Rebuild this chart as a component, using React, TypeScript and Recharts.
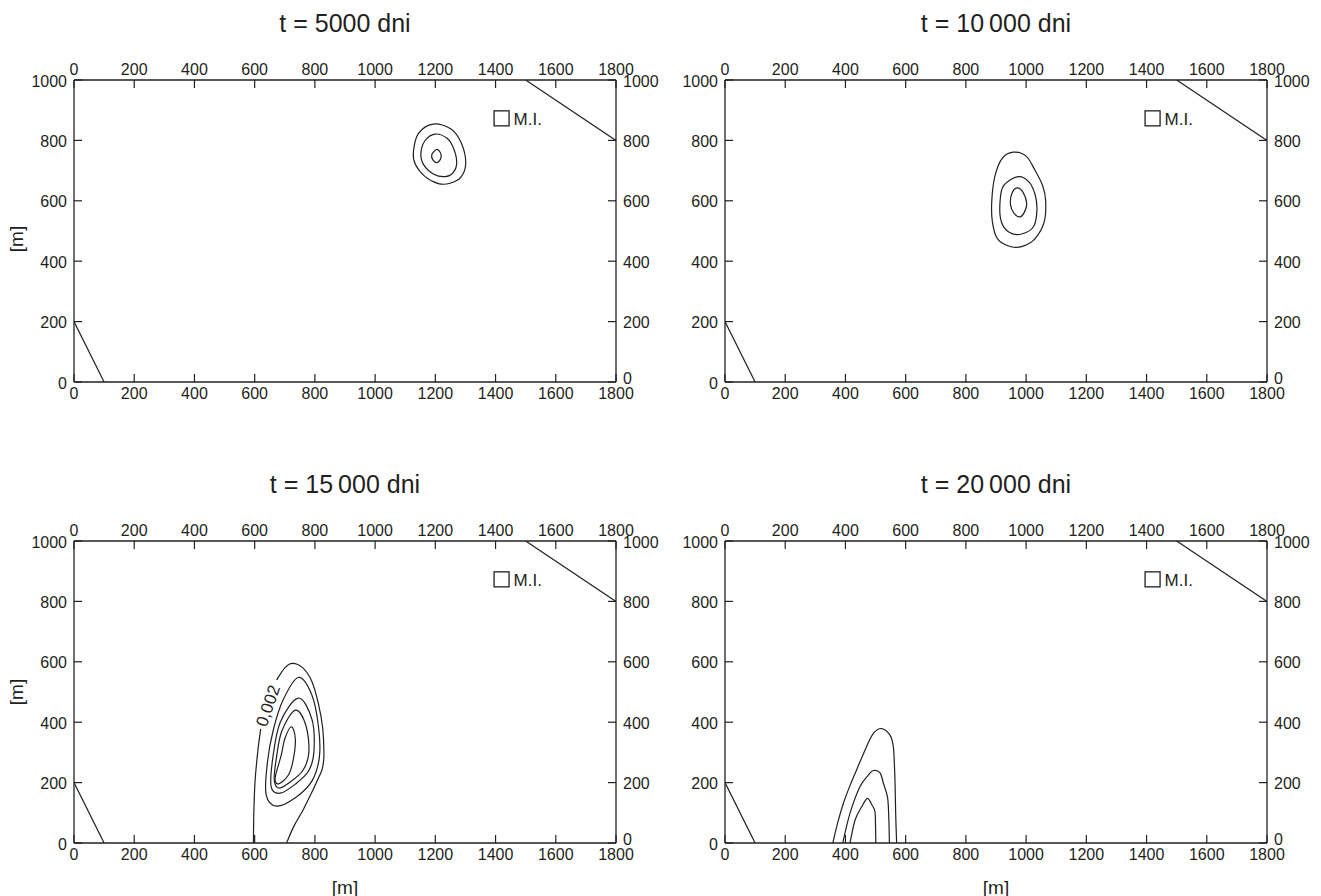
import React from "react"
import { ComposedChart, Line, Scatter, XAxis, YAxis } from "recharts"

const INK = "#231f20"
const FONT = "'Liberation Sans', Arial, sans-serif"

// axis ticks, metres
const xTicks = [0, 200, 400, 600, 800, 1000, 1200, 1400, 1600, 1800]
const yTicks = [0, 200, 400, 600, 800, 1000]

const titles = ["t = 5000 dni", "t = 10\u2009000 dni", "t = 15\u2009000 dni", "t = 20\u2009000 dni"]

// model boundary cut-offs (same on every panel)
const edgeTopRight = [[1500, 1000], [1800, 800]]
const edgeBottomLeft = [[0, 200], [100, 0]]
const wellMI = [[1420, 873]]

// t = 5000
const p1Outer = [[1193, 854], [1252, 838], [1287, 790], [1301, 724], [1285, 678], [1249, 658], [1210, 657], [1166, 680], [1134, 720], [1127, 760], [1144, 823]]
const p1Mid = [[1199, 821], [1240, 806], [1262, 770], [1271, 724], [1258, 692], [1232, 680], [1195, 688], [1162, 718], [1152, 755], [1165, 798]]
const p1Inner = [[1204, 770], [1216, 761], [1219, 744], [1207, 727], [1193, 734], [1188, 752]]

// t = 10 000
const p2Outer = [[957, 761], [1000, 748], [1029, 702], [1055, 650], [1065, 600], [1060, 530], [1030, 475], [990, 450], [950, 448], [905, 474], [888, 530], [886, 600], [896, 680], [920, 740]]
const p2Mid = [[974, 680], [1010, 662], [1030, 620], [1036, 570], [1025, 515], [985, 490], [945, 495], [918, 530], [913, 590], [925, 650]]
const p2Inner = [[970, 643], [990, 628], [1002, 590], [993, 560], [980, 547], [960, 558], [948, 588], [953, 625]]

// t = 15 000
const p3OuterA = [[596, 0], [597, 90], [601, 200], [610, 300], [620, 378]]
const p3OuterB = [[673, 540], [700, 580], [725, 595], [760, 580], [790, 535], [812, 460], [826, 380], [830, 290], [825, 248], [816, 224], [798, 185], [762, 112], [730, 55], [706, 0]]
const p3C2 = [[745, 548], [790, 490], [812, 385], [815, 285], [790, 205], [735, 150], [672, 122], [638, 160], [642, 265], [662, 375], [695, 475]]
const p3C3 = [[745, 480], [790, 410], [797, 305], [780, 240], [735, 195], [685, 165], [655, 185], [660, 280], [685, 400]]
const p3C4 = [[735, 440], [770, 390], [780, 300], [760, 240], [715, 200], [680, 182], [665, 210], [672, 280], [690, 370]]
const p3C5 = [[722, 385], [735, 345], [728, 275], [712, 225], [680, 196], [668, 215], [688, 290], [700, 345]]

// t = 20 000
const p4C1 = [[358, 0], [375, 70], [393, 131], [415, 190], [437, 242], [470, 319], [493, 363], [520, 379], [548, 357], [559, 319], [563, 250], [565, 186], [567, 90], [570, 0]]
const p4C2 = [[391, 0], [415, 98], [448, 186], [476, 225], [493, 240], [515, 232], [526, 198], [540, 150], [544, 80], [546, 0]]
const p4C3 = [[415, 0], [432, 76], [454, 120], [473, 148], [488, 126], [498, 104], [500, 50], [501, 0]]

const toPts = (arr: number[][]) => arr.map(([x, y]) => ({ x, y }))

const seg = (ctx: any, p0: number[], p1: number[], p2: number[], p3: number[]) => {
  ctx.bezierCurveTo(
    p1[0] + (p2[0] - p0[0]) / 6, p1[1] + (p2[1] - p0[1]) / 6,
    p2[0] - (p3[0] - p1[0]) / 6, p2[1] - (p3[1] - p1[1]) / 6,
    p2[0], p2[1]
  )
}
const smoothOpen = (ctx: any) => {
  let pts: number[][] = []
  return {
    areaStart() {}, areaEnd() {},
    lineStart() { pts = [] },
    point(x: number, y: number) { pts.push([+x, +y]) },
    lineEnd() {
      const n = pts.length
      if (!n) return
      ctx.moveTo(pts[0][0], pts[0][1])
      for (let i = 0; i < n - 1; i++) {
        seg(ctx, pts[Math.max(i - 1, 0)], pts[i], pts[i + 1], pts[Math.min(i + 2, n - 1)])
      }
    },
  }
}
const smoothClosed = (ctx: any) => {
  let pts: number[][] = []
  return {
    areaStart() {}, areaEnd() {},
    lineStart() { pts = [] },
    point(x: number, y: number) { pts.push([+x, +y]) },
    lineEnd() {
      const n = pts.length
      if (!n) return
      ctx.moveTo(pts[0][0], pts[0][1])
      for (let i = 0; i < n; i++) {
        seg(ctx, pts[(i - 1 + n) % n], pts[i], pts[(i + 1) % n], pts[(i + 2) % n])
      }
      ctx.closePath()
    },
  }
}

const panels = [
  { left: 0, top: 45, title: titles[0], closed: [p1Outer, p1Mid, p1Inner], open: [] as number[][][], yLabel: true, yShift: 8, xLabel: false, label: null as any },
  { left: 651, top: 45, title: titles[1], closed: [p2Outer, p2Mid, p2Inner], open: [], yLabel: false, yShift: 0, xLabel: false, label: null },
  { left: 0, top: 506, title: titles[2], closed: [p3C2, p3C3, p3C4, p3C5], open: [p3OuterA, p3OuterB], yLabel: true, yShift: 0, xLabel: true, label: { x: 645, y: 454, text: "0,002" } },
  { left: 651, top: 506, title: titles[3], closed: [], open: [p4C1, p4C2, p4C3], yLabel: false, yShift: 0, xLabel: true, label: null },
]

const TICK = 8
const tickText = { fontSize: 16, fill: INK, fontFamily: FONT }

const TickBottom = ({ x, y, payload }: any) => (
  <g>
    <line x1={x} y1={y} x2={x} y2={y - TICK} stroke={INK} strokeWidth={1.2} />
    <text x={x} y={y + 17} textAnchor="middle" {...tickText}>{payload.value}</text>
  </g>
)
const TickTop = ({ x, y, payload }: any) => (
  <g>
    <line x1={x} y1={y} x2={x} y2={y + TICK} stroke={INK} strokeWidth={1.2} />
    <text x={x} y={y - 5} textAnchor="middle" {...tickText}>{payload.value}</text>
  </g>
)
const TickLeft = ({ x, y, payload }: any) => (
  <g>
    <line x1={x} y1={y} x2={x + TICK} y2={y} stroke={INK} strokeWidth={1.2} />
    <text x={x - 7} y={y + 6.5} textAnchor="end" {...tickText}>{payload.value}</text>
  </g>
)
const TickRight = ({ x, y, payload }: any) => (
  <g>
    <line x1={x} y1={y} x2={x - TICK} y2={y} stroke={INK} strokeWidth={1.2} />
    <text x={x + 7} y={payload.value === 0 ? y + 2 : y + 6.5} textAnchor="start" {...tickText}>{payload.value}</text>
  </g>
)

const MiShape = ({ cx, cy }: any) => (
  <g>
    <rect x={cx - 7.5} y={cy - 7.5} width={15} height={15} fill="none" stroke={INK} strokeWidth={1.3} />
    <text x={cx + 12} y={cy + 6.5} fontSize={17} fill={INK} fontFamily={FONT}>M.I.</text>
  </g>
)

const axisLine = { stroke: INK, strokeWidth: 1.3 }

function Panel({ p }: { p: (typeof panels)[number] }) {
  const W = 660
  const H = 380
  const plotLeft = 74
  const plotRight = W - 44
  const plotTop = 35
  const plotBottom = H - 43
  const midX = (plotLeft + plotRight) / 2
  const LabelShape = ({ cx, cy }: any) => (
    <text x={cx} y={cy} transform={`rotate(-71 ${cx} ${cy})`} textAnchor="middle" dominantBaseline="central" fontSize={17} fill={INK} fontFamily={FONT}>
      {p.label.text}
    </text>
  )
  return (
    <div style={{ position: "absolute", left: p.left, top: p.top, width: W, height: H }}>
      <div style={{ position: "absolute", left: plotLeft, width: plotRight - plotLeft, top: -35, fontSize: 25, lineHeight: "26px", textAlign: "center", color: INK }}>
        {p.title}
      </div>
      {p.yLabel && (
        <div style={{ position: "absolute", left: 17 - 25, top: (plotTop + plotBottom) / 2 - 12 + p.yShift, width: 50, height: 24, lineHeight: "24px", fontSize: 19, textAlign: "center", transform: "rotate(-90deg)", color: INK }}>
          [m]
        </div>
      )}
      {p.xLabel && (
        <div style={{ position: "absolute", left: midX - 25, top: plotBottom + 33, width: 50, fontSize: 19, lineHeight: "24px", textAlign: "center", color: INK }}>
          [m]
        </div>
      )}
      <ComposedChart width={W} height={H} margin={{ top: 0, right: 0, bottom: 0, left: 0 }}>
        <XAxis xAxisId="b" type="number" dataKey="x" domain={[0, 1800]} ticks={xTicks} interval={0} orientation="bottom" height={43} tickSize={0} tickMargin={0} tickLine={false} tick={(t: any) => <TickBottom {...t} />} axisLine={axisLine} allowDataOverflow />
        <XAxis xAxisId="t" type="number" dataKey="x" domain={[0, 1800]} ticks={xTicks} interval={0} orientation="top" height={35} tickSize={0} tickMargin={0} tickLine={false} tick={(t: any) => <TickTop {...t} />} axisLine={axisLine} allowDataOverflow />
        <YAxis yAxisId="l" type="number" dataKey="y" domain={[0, 1000]} ticks={yTicks} interval={0} orientation="left" width={74} tickSize={0} tickMargin={0} tickLine={false} tick={(t: any) => <TickLeft {...t} />} axisLine={axisLine} allowDataOverflow />
        <YAxis yAxisId="r" type="number" dataKey="y" domain={[0, 1000]} ticks={yTicks} interval={0} orientation="right" width={44} tickSize={0} tickMargin={0} tickLine={false} tick={(t: any) => <TickRight {...t} />} axisLine={axisLine} allowDataOverflow />

        <Line xAxisId="b" yAxisId="l" data={toPts(edgeTopRight)} dataKey="y" type="linear" stroke={INK} strokeWidth={1.2} dot={false} activeDot={false} isAnimationActive={false} />
        <Line xAxisId="b" yAxisId="l" data={toPts(edgeBottomLeft)} dataKey="y" type="linear" stroke={INK} strokeWidth={1.2} dot={false} activeDot={false} isAnimationActive={false} />

        {p.closed.map((c, i) => (
          <Line key={`c${i}`} xAxisId="b" yAxisId="l" data={toPts(c)} dataKey="y" type={smoothClosed as any} stroke={INK} strokeWidth={1.2} dot={false} activeDot={false} isAnimationActive={false} />
        ))}
        {p.open.map((c, i) => (
          <Line key={`o${i}`} xAxisId="b" yAxisId="l" data={toPts(c)} dataKey="y" type={smoothOpen as any} stroke={INK} strokeWidth={1.2} dot={false} activeDot={false} isAnimationActive={false} />
        ))}

        <Scatter xAxisId="b" yAxisId="l" data={toPts(wellMI)} dataKey="y" shape={MiShape} isAnimationActive={false} />
        {p.label && (
          <Scatter xAxisId="b" yAxisId="l" data={[{ x: p.label.x, y: p.label.y }]} dataKey="y" shape={LabelShape} isAnimationActive={false} />
        )}
      </ComposedChart>
    </div>
  )
}

export default function App() {
  return (
    <div style={{ position: "absolute", left: 0, top: 0, width: 1321, height: 896, background: "#fff", fontFamily: FONT }}>
      {panels.map((p, i) => (
        <Panel key={i} p={p} />
      ))}
    </div>
  )
}
